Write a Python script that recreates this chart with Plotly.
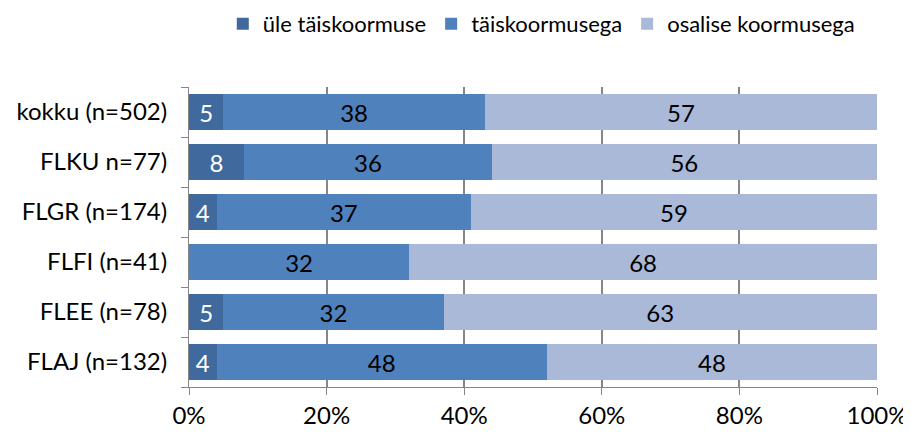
import plotly.graph_objects as go

categories = ["kokku (n=502)", "FLKU n=77)", "FLGR (n=174)", "FLFI (n=41)", "FLEE (n=78)", "FLAJ (n=132)"]
ule = [5, 8, 4, 0, 5, 4]
tais = [38, 36, 37, 32, 32, 48]
osalise = [57, 56, 59, 68, 63, 48]
series_names = ["üle täiskoormuse", "täiskoormusega", "osalise koormusega"]
colors = ["#40699E", "#4F81BD", "#AAB9D7"]
text_colors = ["white", "black", "black"]

FONT = "Lato"
FS = 24
fig = go.Figure()
for name, vals, col, tc in zip(series_names, [ule, tais, osalise], colors, text_colors):
    fig.add_trace(go.Bar(
        y=categories, x=vals, name=name, orientation="h",
        marker=dict(color=col, line=dict(width=0)),
        text=[str(v) if v > 0 else "" for v in vals],
        textposition="inside", insidetextanchor="middle",
        textfont=dict(color=tc, size=FS, family=FONT),
        hoverinfo="x+name",
    ))

fig.update_layout(
    barmode="stack", bargap=0.28,
    width=911, height=433,
    margin=dict(l=181, r=42, t=79, b=54, autoexpand=False),
    paper_bgcolor="white", plot_bgcolor="white",
    font=dict(family=FONT, size=FS, color="black"),
    uniformtext=dict(minsize=10, mode="show"),
    legend=dict(orientation="h", x=0.975, xanchor="right", y=1.21, yanchor="middle",
                font=dict(size=22, family=FONT), traceorder="normal",
                itemwidth=30, tracegroupgap=0),
    showlegend=True,
)
fig.update_xaxes(range=[0, 100], tickvals=[0, 20, 40, 60, 80, 100],
                 ticktext=["0%", "20%", "40%", "60%", "80%", "100%"],
                 showgrid=True, gridcolor="#868686", gridwidth=1.5,
                 showline=True, linecolor="#868686", linewidth=1,
                 ticks="outside", ticklen=7, tickcolor="#868686",
                 zeroline=False, tickfont=dict(size=FS, family=FONT), layer="below traces")
fig.update_yaxes(categoryorder="array", categoryarray=categories[::-1],
                 showline=True, linecolor="#868686", linewidth=1,
                 ticks="outside", ticklen=7, tickcolor="#868686",
                 tickson="boundaries", ticklabelstandoff=16,
                 tickfont=dict(size=FS, family=FONT))
fig.write_html("out.html")
